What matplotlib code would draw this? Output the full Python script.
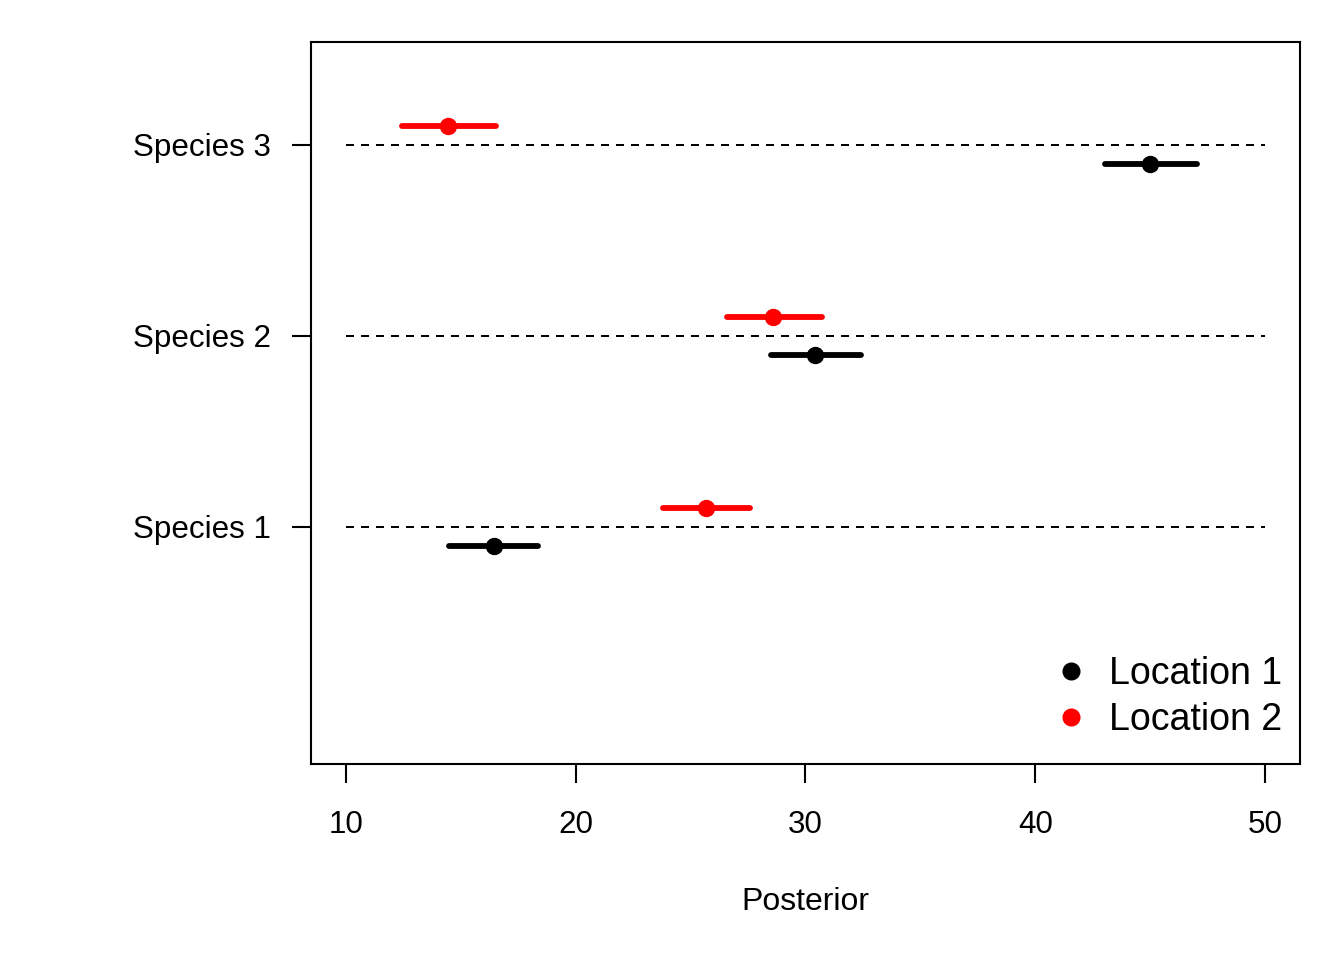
import matplotlib
matplotlib.use("Agg")
import matplotlib.pyplot as plt
from matplotlib.lines import Line2D

species = ["Species 1", "Species 2", "Species 3"]
loc_names = ["Location 1", "Location 2"]
loc_colors = ["black", "red"]
# posterior point estimates and intervals per location
loc1_mid = [16.44, 30.41, 44.99]
loc1_lo = [14.48, 28.50, 43.04]
loc1_hi = [18.36, 32.42, 47.04]
loc2_mid = [25.67, 28.59, 14.44]
loc2_lo = [23.80, 26.58, 12.44]
loc2_hi = [27.58, 30.72, 16.53]
x_ticks = [10, 20, 30, 40, 50]

plt.rcParams["font.family"] = ["Liberation Sans", "DejaVu Sans"]

fig = plt.figure(figsize=(13.44, 9.6), dpi=100)
ax = fig.add_axes([311/1344, 1 - 764/960, (1300-311)/1344, (764-42)/960])

ypos = [1, 2, 3]
for y in ypos:
    ax.plot([10, 50], [y, y], color="black", lw=1.44, linestyle=(0, (4, 3.5)), zorder=1)

series = [(loc1_mid, loc1_lo, loc1_hi, -0.1), (loc2_mid, loc2_lo, loc2_hi, 0.1)]
for (mid, lo, hi, off), col in zip(series, loc_colors):
    for y, m, l, h in zip(ypos, mid, lo, hi):
        ax.plot([l, h], [y + off, y + off], color=col, lw=4.2, solid_capstyle="round", zorder=2)
        ax.plot([m], [y + off], "o", color=col, markersize=11.5, zorder=3)

ax.set_xlim(10 - 40 * 0.04 + 0.08, 50 + 40 * 0.04 - 0.08)
ax.set_ylim(-0.241, 3.539)
ax.set_xticks(x_ticks)
ax.set_xticklabels([str(t) for t in x_ticks])
ax.set_yticks(ypos)
ax.set_yticklabels(species)
for s in ax.spines.values():
    s.set_linewidth(1.5)
ax.tick_params(axis="both", length=13.7, width=1.5, labelsize=22.6)
ax.tick_params(axis="x", pad=19.5)
ax.tick_params(axis="y", pad=15)

ax.set_xlabel("Posterior", fontsize=23)
ax.xaxis.label.set_va("center")
ax.xaxis.set_label_coords(0.5, -(902 - 764) / 722)

handles = [Line2D([], [], marker="o", linestyle="none", color=c, markersize=12) for c in loc_colors]
ax.legend(handles, loc_names, loc="lower right", frameon=False, fontsize=27,
          handlelength=1.0, handletextpad=0.5, labelspacing=0.27, borderaxespad=0.3,
          bbox_to_anchor=(1.0 + 8 / 989, 0.0))

fig.savefig("out.png", dpi=100)
